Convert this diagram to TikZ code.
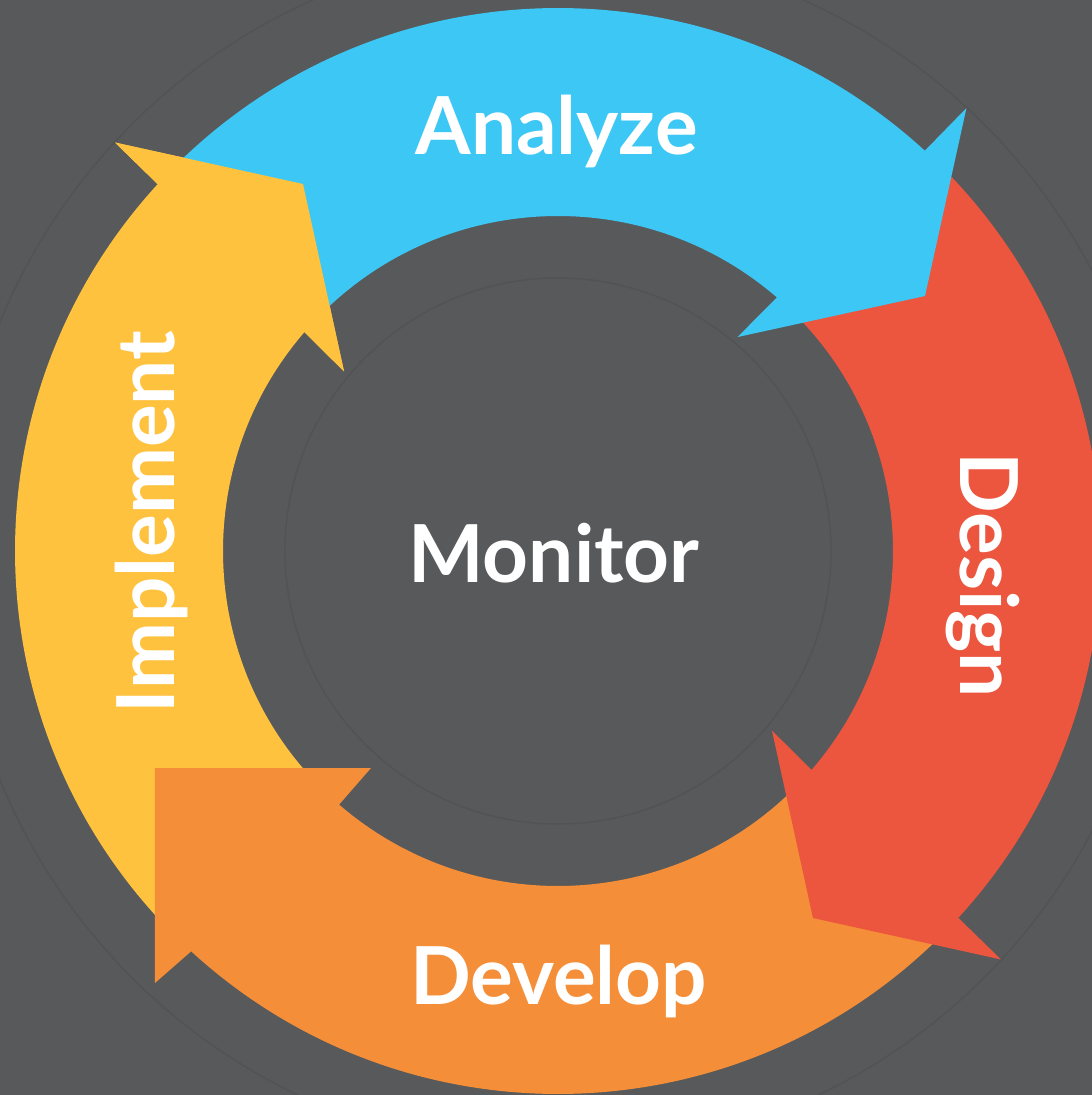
\documentclass[tikz,border=0pt]{standalone}
\usepackage{fontspec}
\setmainfont{Lato}
\definecolor{bgc}{HTML}{58595B}
\definecolor{faintc}{HTML}{525355}
\definecolor{bluec}{HTML}{3CC7F4}
\definecolor{redc}{HTML}{EC553E}
\definecolor{orangec}{HTML}{F58E38}
\definecolor{yellowc}{HTML}{FEC23F}
% generic arrow: shaft from tail to head, rotated by #1
\newcommand\cyclearrow[2]{%
  \fill[#2,rotate=#1] (135.5:543) arc[start angle=135.5,end angle=47.5,radius=543pt]
    -- (47.32:602.6) -- (34.79:446.9) -- (50:279.3) -- (49.2:335)
    arc[start angle=49.2,end angle=137.25,radius=335pt] -- cycle;}
\begin{document}
\begin{tikzpicture}[x=1pt,y=1pt,
  lbl/.style={text=white,font=\bfseries\fontsize{80}{90}\selectfont,inner sep=0pt},
  faintring/.style={draw=faintc,line width=1.5pt}]
\fill[bgc] (-558,-544) rectangle (534,551);
\useasboundingbox (-558,-544) rectangle (534,551);
\draw[faintring] (0,0) circle[radius=603pt];
\draw[faintring] (0,0) circle[radius=273pt];
% yellow (Implement)
\cyclearrow{90}{yellowc}
% orange (Develop), special square head
\fill[orangec] (-44.5:543) arc[start angle=-44.5,end angle=-132.5,radius=543pt]
  -- (-403,-432) -- (-403,-217) -- (-187,-217) -- (-130.8:335)
  arc[start angle=-130.8,end angle=-42.75,radius=335pt] -- cycle;
% red (Design)
\cyclearrow{-90}{redc}
% blue (Analyze)
\cyclearrow{0}{bluec}
% yellow head again, over blue tail
\fill[yellowc,rotate=90] (47.5:543) -- (47.32:602.6) -- (34.79:446.9) -- (50:279.3) -- (49.2:335) -- cycle;
% labels
\node[lbl,anchor=base] (analyze) at (-1.5,396) {Analyze};
\node[lbl,anchor=base,rotate=-90] (design) at (402,-24) {Design};
\node[lbl,anchor=base] (develop) at (0.5,-453) {Develop};
\node[lbl,anchor=base,rotate=90] (implement) at (-383,29) {Implement};
\node[lbl,anchor=base] (monitor) at (-4,-31) {Monitor};
\end{tikzpicture}
\end{document}
